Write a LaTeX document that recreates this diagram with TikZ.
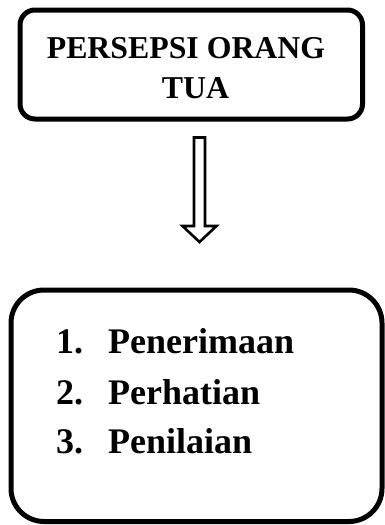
\documentclass[tikz,border=0pt]{standalone}
\usepackage{fontspec}
\setmainfont{Liberation Serif}
\usetikzlibrary{calc}
\begin{document}
\begin{tikzpicture}[x=1pt,y=-1pt,
  boxstyle/.style={draw=black, line width=5pt, rounded corners=#1, inner sep=0pt, fill=white},
  titletext/.style={font=\fontsize{31.8}{40}\selectfont\bfseries, inner sep=0pt, anchor=base},
  listtext/.style={font=\fontsize{36}{50}\selectfont\bfseries, inner sep=0pt, anchor=base west},
  hollowarrow/.style={draw=black, line width=2.6pt, fill=white, line join=miter}]
\useasboundingbox (0,0) rectangle (384,525);
% boxes
\node[boxstyle=15pt, minimum width=342.5pt, minimum height=109pt] (top) at (191.25,64.5) {};
\node[boxstyle=33pt, minimum width=371pt, minimum height=231.5pt] (bottom) at (196.5,405.75) {};
% title text
\node[titletext] (t1) at (186,58) {PERSEPSI ORANG};
\node[titletext] (t2) at (195.5,98) {TUA};
% list text
\node[listtext] (n1) at (56,353) {1.};
\node[listtext] (w1) at (108,353) {Penerimaan};
\node[listtext] (n2) at (56,404) {2.};
\node[listtext] (w2) at (108,404) {Perhatian};
\node[listtext] (n3) at (56,453) {3.};
\node[listtext] (w3) at (108,453) {Penilaian};
% hollow arrow
\coordinate (as) at (199.5,137.5);
\coordinate (ae) at (199.5,242);
\draw[hollowarrow]
  ($(as)+(-5.5,0)$) -- ($(as)+(5.5,0)$) -- ($(ae)+(5.5,-16)$) -- ($(ae)+(17,-16)$)
  -- (ae) -- ($(ae)+(-17,-16)$) -- ($(ae)+(-5.5,-16)$) -- cycle;
\end{tikzpicture}
\end{document}
